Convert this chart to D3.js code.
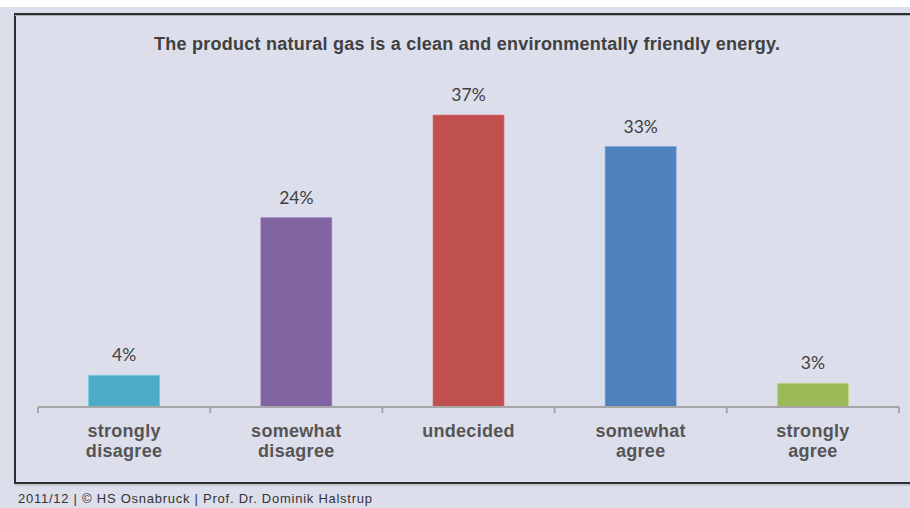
<!DOCTYPE html>
<html>
<head>
<meta charset="utf-8">
<script src="https://cdn.jsdelivr.net/npm/d3@7/dist/d3.min.js"></script>
<style>
  html, body { margin: 0; padding: 0; background: #ffffff; }
  svg { display: block; }
</style>
</head>
<body>
<svg id="chart" width="910" height="508"></svg>
<script>
// Survey answers: "The product natural gas is a clean and environmentally friendly energy."
const categories = [
  ["strongly", "disagree"],
  ["somewhat", "disagree"],
  ["undecided"],
  ["somewhat", "agree"],
  ["strongly", "agree"]
];
const shares = [4, 24, 37, 33, 3];            // percent of respondents
const valueLabels = ["4%", "24%", "37%", "33%", "3%"];
const barColors = ["#4bacc6", "#8064a2", "#c0504d", "#4f81bd", "#9bbb59"];
const titleText = "The product natural gas is a clean and environmentally friendly energy.";
const footerText = "2011/12 | \u00A9 HS Osnabruck | Prof. Dr. Dominik Halstrup";

const W = 910, H = 508;
const svg = d3.select("#chart");

// page background and thin white strip along the top
svg.append("rect").attr("width", W).attr("height", H).attr("fill", "#dcdeeb");
svg.append("rect").attr("width", W).attr("height", 7).attr("fill", "#ffffff");

// chart frame (open to the right)
const frame = { left: 15, top: 14, bottom: 483 };
svg.append("path")
  .attr("d", `M${W + 5},${frame.top} H${frame.left} V${frame.bottom} H${W + 5}`)
  .attr("fill", "none").attr("stroke", "#2e2e2e").attr("stroke-width", 2);
svg.append("line")
  .attr("x1", frame.left).attr("x2", W).attr("y1", frame.bottom + 2).attr("y2", frame.bottom + 2)
  .attr("stroke", "#a9aab4").attr("stroke-width", 1);
svg.append("line")
  .attr("x1", frame.left).attr("x2", W).attr("y1", frame.top + 1.5).attr("y2", frame.top + 1.5)
  .attr("stroke", "#a9aab4").attr("stroke-width", 1);

// title
svg.append("text")
  .attr("x", 467).attr("y", 50)
  .attr("text-anchor", "middle")
  .attr("font-family", "Liberation Sans, Arial, sans-serif")
  .attr("font-weight", "bold").attr("font-size", 18)
  .attr("fill", "#404040")
  .attr("textLength", 626).attr("lengthAdjust", "spacing")
  .text(titleText);

// scales
const x = d3.scaleBand()
  .domain(d3.range(categories.length))
  .range([38, 899])
  .paddingInner(0.588)
  .paddingOuter(0.294);
const y = d3.scaleLinear().domain([0, 40]).range([407, 91.4]);

// bars
const g = svg.append("g");
g.selectAll("rect.bar")
  .data(shares)
  .join("rect")
  .attr("class", "bar")
  .attr("x", (d, i) => x(i))
  .attr("y", d => y(d))
  .attr("width", x.bandwidth())
  .attr("height", d => y(0) - y(d))
  .attr("fill", (d, i) => barColors[i])
  .attr("stroke", (d, i) => d3.color(barColors[i]).brighter(0.5))
  .attr("stroke-opacity", 0.6)
  .attr("stroke-width", 1);

// value labels
g.selectAll("text.value")
  .data(shares)
  .join("text")
  .attr("class", "value")
  .attr("x", (d, i) => x(i) + x.bandwidth() / 2)
  .attr("y", d => y(d) - 14)
  .attr("text-anchor", "middle")
  .attr("font-family", "Lato, 'Open Sans', sans-serif")
  .attr("font-size", 17.5)
  .attr("fill", "#404040")
  .text((d, i) => valueLabels[i]);

// category axis: baseline with ticks at band boundaries
const axisY = y(0);
const [x0] = x.range();
const step = x.step();
const bounds = d3.range(categories.length + 1).map(i => x0 + i * step);
svg.append("line")
  .attr("x1", bounds[0]).attr("x2", bounds[bounds.length - 1])
  .attr("y1", axisY).attr("y2", axisY)
  .attr("stroke", "#a6a6a6").attr("stroke-width", 2);
svg.selectAll("line.tick")
  .data(bounds)
  .join("line")
  .attr("class", "tick")
  .attr("x1", d => d).attr("x2", d => d)
  .attr("y1", axisY).attr("y2", axisY + 6)
  .attr("stroke", "#a6a6a6").attr("stroke-width", 2);

// category labels
const catText = svg.selectAll("text.cat")
  .data(categories)
  .join("text")
  .attr("class", "cat")
  .attr("text-anchor", "middle")
  .attr("font-family", "Liberation Sans, Arial, sans-serif")
  .attr("font-weight", "bold").attr("font-size", 18)
  .attr("letter-spacing", 0.3)
  .attr("fill", "#555555");
catText.selectAll("tspan")
  .data((d, i) => d.map(line => ({ line, i })))
  .join("tspan")
  .attr("x", d => x(d.i) + x.bandwidth() / 2)
  .attr("y", (d, j) => 437 + j * 20)
  .text(d => d.line);

// footer
svg.append("text")
  .attr("x", 18).attr("y", 503)
  .attr("font-family", "Liberation Sans, Arial, sans-serif")
  .attr("font-size", 13)
  .attr("fill", "#333333")
  .attr("textLength", 354).attr("lengthAdjust", "spacing")
  .text(footerText);
</script>
</body>
</html>
